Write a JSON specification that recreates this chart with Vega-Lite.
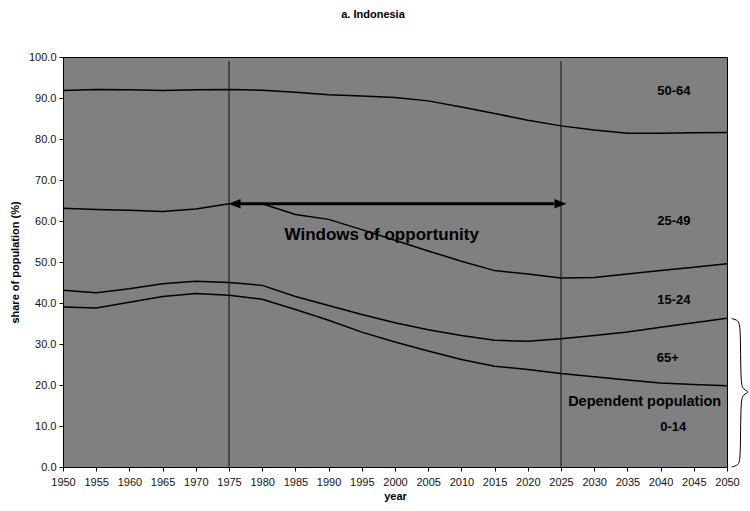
{
  "$schema": "https://vega.github.io/schema/vega-lite/v6.json",
  "width": 664,
  "height": 410,
  "autosize": "none",
  "padding": {"left": 63, "top": 57, "right": 23, "bottom": 44},
  "title": {"text": "a. Indonesia", "font": "Liberation Sans", "fontSize": 11, "fontWeight": "bold", "color": "#000", "anchor": "middle", "frame": "group", "dx": -22, "offset": 31},
  "datasets": {
    "lines": [
      {"year": 1950, "b1": 39.0, "b2": 43.1, "b3": 63.1, "b4": 91.8},
      {"year": 1955, "b1": 38.8, "b2": 42.5, "b3": 62.8, "b4": 92.1},
      {"year": 1960, "b1": 40.2, "b2": 43.5, "b3": 62.6, "b4": 92.0},
      {"year": 1965, "b1": 41.6, "b2": 44.7, "b3": 62.3, "b4": 91.8},
      {"year": 1970, "b1": 42.3, "b2": 45.3, "b3": 62.9, "b4": 92.0},
      {"year": 1975, "b1": 41.9, "b2": 45.0, "b3": 64.2, "b4": 92.1},
      {"year": 1980, "b1": 40.9, "b2": 44.3, "b3": 64.2, "b4": 91.9},
      {"year": 1985, "b1": 38.4, "b2": 41.6, "b3": 61.6, "b4": 91.4},
      {"year": 1990, "b1": 35.8, "b2": 39.4, "b3": 60.4, "b4": 90.8},
      {"year": 1995, "b1": 32.9, "b2": 37.2, "b3": 57.9, "b4": 90.5},
      {"year": 2000, "b1": 30.5, "b2": 35.2, "b3": 55.3, "b4": 90.1},
      {"year": 2005, "b1": 28.3, "b2": 33.5, "b3": 52.7, "b4": 89.3},
      {"year": 2010, "b1": 26.2, "b2": 32.1, "b3": 50.2, "b4": 87.8},
      {"year": 2015, "b1": 24.6, "b2": 30.9, "b3": 47.9, "b4": 86.2},
      {"year": 2020, "b1": 23.8, "b2": 30.7, "b3": 47.1, "b4": 84.6},
      {"year": 2025, "b1": 22.8, "b2": 31.3, "b3": 46.1, "b4": 83.2},
      {"year": 2030, "b1": 22.0, "b2": 32.1, "b3": 46.2, "b4": 82.2},
      {"year": 2035, "b1": 21.2, "b2": 32.9, "b3": 47.1, "b4": 81.4},
      {"year": 2040, "b1": 20.5, "b2": 34.1, "b3": 47.9, "b4": 81.4},
      {"year": 2045, "b1": 20.1, "b2": 35.2, "b3": 48.7, "b4": 81.5},
      {"year": 2050, "b1": 19.8, "b2": 36.3, "b3": 49.6, "b4": 81.6}
    ],
    "brace": [
      {"i": 1, "year": 2050.7, "value": 36.2},
      {"i": 2, "year": 2051.7, "value": 35.8},
      {"i": 3, "year": 2052.05, "value": 34.3},
      {"i": 4, "year": 2052.05, "value": 20.6},
      {"i": 5, "year": 2052.4, "value": 18.9},
      {"i": 6, "year": 2053.5, "value": 18.3},
      {"i": 7, "year": 2052.4, "value": 17.7},
      {"i": 8, "year": 2052.05, "value": 16.0},
      {"i": 9, "year": 2052.05, "value": 1.9},
      {"i": 10, "year": 2051.7, "value": 0.4},
      {"i": 11, "year": 2050.7, "value": 0.0}
    ]
  },
  "encoding": {
    "x": {"field": "year", "type": "quantitative", "scale": {"domain": [1950, 2050], "nice": false, "zero": false},
          "axis": {"values": [1950,1955,1960,1965,1970,1975,1980,1985,1990,1995,2000,2005,2010,2015,2020,2025,2030,2035,2040,2045,2050], "tickCount": 21, "format": "d", "title": "year", "labelPadding": 5, "titlePadding": 3, "labelOverlap": false, "labelFlush": false, "labelBound": false}}
  },
  "layer": [
    {
      "data": {"name": "lines"},
      "transform": [{"fold": ["b1", "b2", "b3", "b4"], "as": ["key", "value"]}],
      "mark": {"type": "line", "color": "#000", "strokeWidth": 1.5},
      "encoding": {
        "y": {"field": "value", "type": "quantitative", "scale": {"domain": [0, 100], "nice": false},
              "axis": {"values": [0,10,20,30,40,50,60,70,80,90,100], "format": ".1f", "title": "share of population (%)", "labelPadding": 3, "titlePadding": 8, "labelOverlap": false, "labelFlush": false}},
        "detail": {"field": "key"}
      }
    },
    {
      "data": {"values": [{"year": 1975}, {"year": 2025}]},
      "mark": {"type": "rule", "color": "#111", "strokeWidth": 1},
      "encoding": {
        "y": {"datum": 0},
        "y2": {"datum": 99}
      }
    },
    {
      "data": {"values": [{"year": 1976, "end": 2024, "value": 64.2}]},
      "mark": {"type": "rule", "color": "#000", "strokeWidth": 3},
      "encoding": {
        "x2": {"field": "end"},
        "y": {"field": "value", "type": "quantitative"}
      }
    },
    {
      "data": {"values": [{"year": 1975, "value": 64.2}]},
      "mark": {"type": "point", "filled": true, "color": "#000", "opacity": 1, "size": 144, "shape": "M1,-0.8L-1,0L1,0.8Z", "xOffset": 5.5},
      "encoding": {
        "y": {"field": "value", "type": "quantitative"}
      }
    },
    {
      "data": {"values": [{"year": 2025, "value": 64.2}]},
      "mark": {"type": "point", "filled": true, "color": "#000", "opacity": 1, "size": 144, "shape": "M-1,-0.8L1,0L-1,0.8Z", "xOffset": -0.5},
      "encoding": {
        "y": {"field": "value", "type": "quantitative"}
      }
    },
    {
      "data": {"values": [
        {"label": "50-64", "year": 2042, "value": 91.6},
        {"label": "25-49", "year": 2042, "value": 60.1},
        {"label": "15-24", "year": 2042, "value": 40.8},
        {"label": "65+", "year": 2041.1, "value": 26.6},
        {"label": "0-14", "year": 2041.9, "value": 9.8}
      ]},
      "mark": {"type": "text", "font": "Liberation Sans", "fontSize": 13, "fontWeight": "bold", "color": "#000", "baseline": "middle", "align": "center"},
      "encoding": {
        "y": {"field": "value", "type": "quantitative"},
        "text": {"field": "label"}
      }
    },
    {
      "data": {"values": [{"label": "Dependent population", "year": 2037.6, "value": 15.9}]},
      "mark": {"type": "text", "font": "Liberation Sans", "fontSize": 14.5, "fontWeight": "bold", "color": "#000", "baseline": "middle", "align": "center"},
      "encoding": {
        "y": {"field": "value", "type": "quantitative"},
        "text": {"field": "label"}
      }
    },
    {
      "data": {"values": [{"label": "Windows of opportunity", "year": 1998, "value": 56.6}]},
      "mark": {"type": "text", "font": "Liberation Sans", "fontSize": 17, "fontWeight": "bold", "color": "#000", "baseline": "middle", "align": "center"},
      "encoding": {
        "y": {"field": "value", "type": "quantitative"},
        "text": {"field": "label"}
      }
    },
    {
      "data": {"name": "brace"},
      "mark": {"type": "line", "color": "#000", "strokeWidth": 1, "interpolate": "basis", "clip": false},
      "encoding": {
        "y": {"field": "value", "type": "quantitative"},
        "order": {"field": "i", "type": "quantitative"}
      }
    }
  ],
  "config": {
    "view": {"fill": "#808080", "stroke": "#000", "strokeWidth": 1},
    "axis": {
      "grid": false,
      "domainColor": "#000",
      "tickColor": "#000",
      "tickSize": 4,
      "labelColor": "#111",
      "labelFont": "Liberation Sans",
      "labelFontSize": 11,
      "labelOverlap": false,
      "titleFont": "Liberation Sans",
      "titleFontSize": 11,
      "titleFontWeight": "bold",
      "titleColor": "#000"
    }
  }
}
